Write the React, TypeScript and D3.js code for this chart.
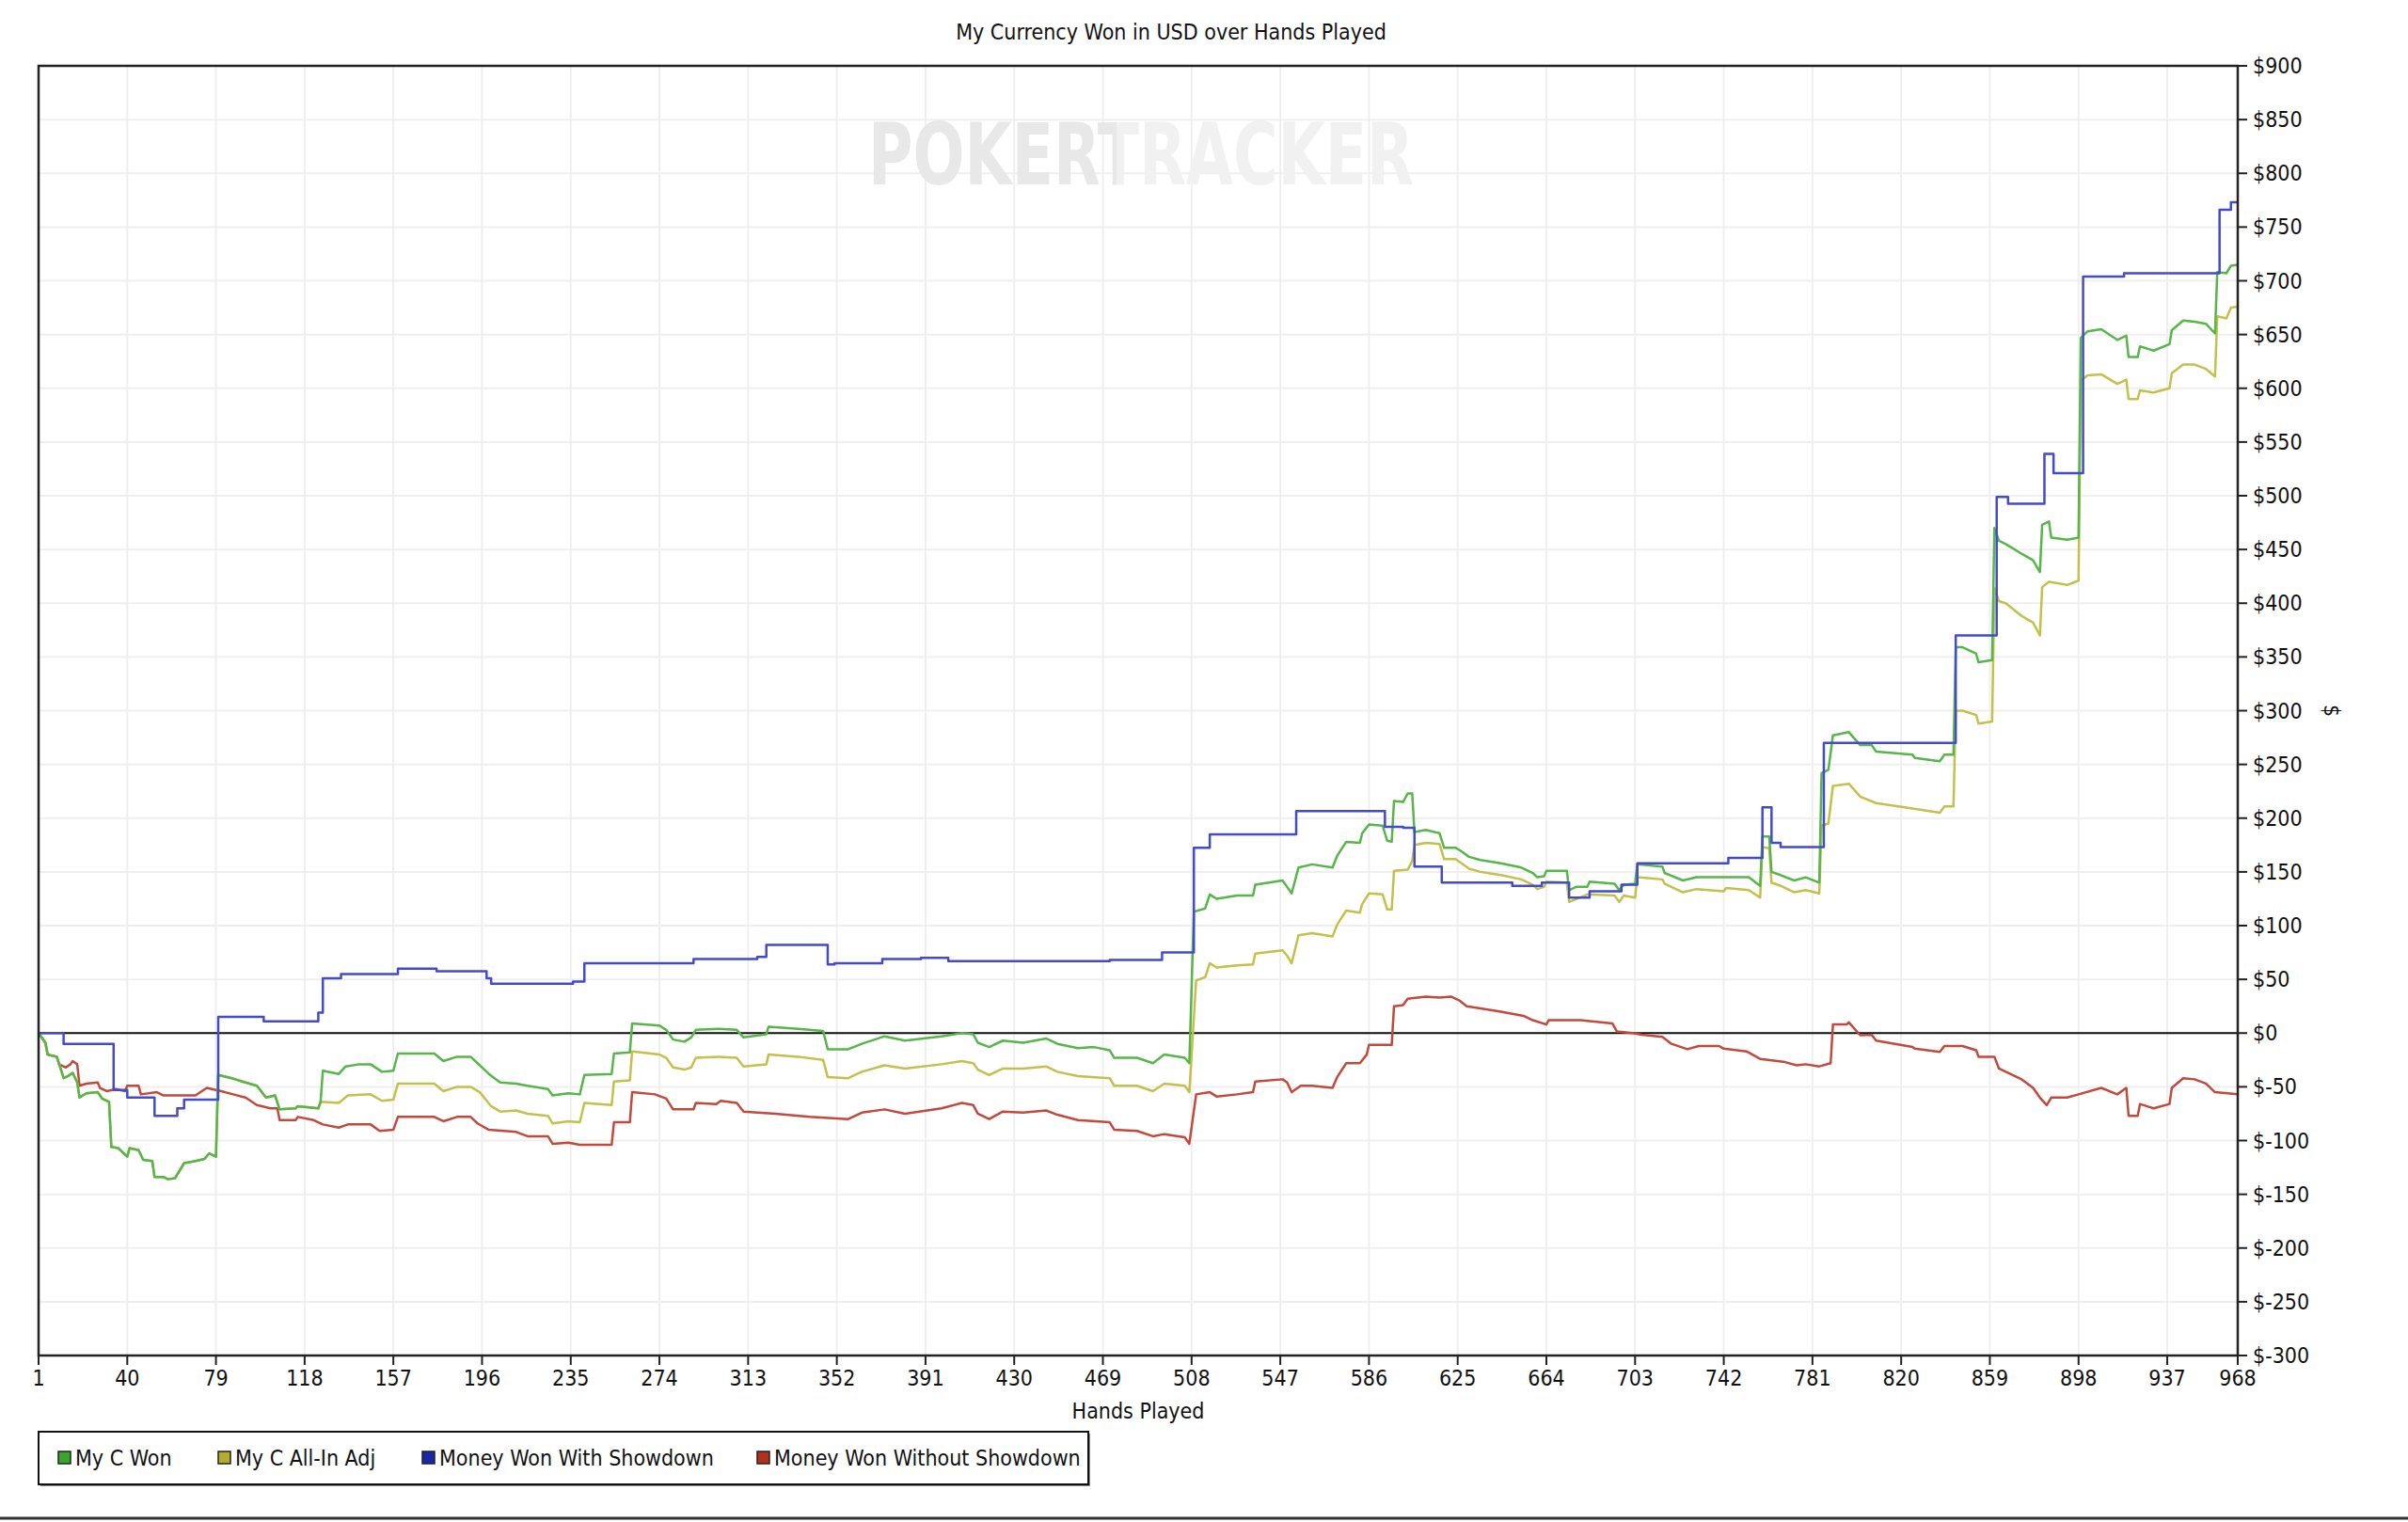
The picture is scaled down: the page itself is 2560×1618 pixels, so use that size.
import React from 'react';
import * as d3 from 'd3';

const WIDTH = 2560;
const HEIGHT = 1618;
const PLOT = { left: 41, right: 2379, top: 70, bottom: 1441 };
const FONT = "'DejaVu Sans Condensed', 'Liberation Sans Narrow', sans-serif";

const handTicks = [1, 40, 79, 118, 157, 196, 235, 274, 313, 352, 391, 430, 469, 508, 547, 586, 625, 664, 703, 742, 781, 820, 859, 898, 937, 968];
const dollarTicks = [-300, -250, -200, -150, -100, -50, 0, 50, 100, 150, 200, 250, 300, 350, 400, 450, 500, 550, 600, 650, 700, 750, 800, 850, 900];

type Pt = [number, number];

// [hand, $]
const myCWon: Pt[] = [
  [1, 0], [4, -9], [5, -20], [9, -22], [11, -35], [12, -42], [14, -40], [16, -37], [18, -46], [19, -60], [22, -56], [27, -55], [29, -61], [32, -64],
  [33, -106], [36, -107], [40, -115], [41, -107], [45, -109], [47, -118], [51, -119], [52, -134], [56, -134], [58, -136], [61, -135], [63, -128],
  [65, -121], [70, -119], [74, -117], [76, -112], [79, -115], [80, -39], [86, -42], [92, -46], [97, -49], [101, -60], [105, -58], [107, -71],
  [114, -70], [115, -68], [124, -70], [125, -64], [126, -35], [133, -38], [136, -31], [142, -29], [147, -29], [152, -36], [157, -35], [159, -19],
  [175, -19], [179, -26], [185, -22], [191, -22], [194, -28], [199, -38], [204, -46], [211, -47], [216, -49], [225, -52], [227, -58], [234, -56],
  [239, -57], [241, -39], [253, -38], [254, -19], [261, -18], [262, 9], [274, 7], [277, 3], [280, -6], [285, -8], [288, -4], [290, 3], [300, 4],
  [308, 3], [311, -4], [321, -1], [322, 6], [335, 4], [346, 2], [348, -15], [357, -15], [363, -10], [373, -3], [382, -7], [398, -3], [407, 0],
  [412, -1], [414, -9], [419, -13], [425, -7], [434, -9], [444, -5], [449, -10], [458, -14], [465, -13], [472, -16], [474, -23], [484, -23],
  [491, -28], [496, -20], [505, -23], [507, -28], [509, 113], [514, 116], [516, 129], [519, 125], [528, 128], [535, 128], [536, 138], [548, 142],
  [550, 136], [552, 130], [555, 154], [561, 157], [570, 154], [572, 165], [576, 178], [582, 177], [583, 186], [586, 194], [592, 193], [594, 179],
  [596, 178], [597, 216], [601, 215], [603, 223], [605, 223], [606, 187], [611, 189], [617, 186], [619, 172.5], [624, 172.5], [626, 170],
  [630, 164], [635, 161], [644, 158], [653, 154], [658, 149], [660, 145], [663, 146], [664, 151], [673, 151], [674, 133], [677, 136], [682, 136],
  [683, 141], [694, 139], [696, 133], [698, 138], [703, 139], [704, 157], [715, 155], [716, 149], [724, 142], [730, 145], [742, 145], [753, 145],
  [758, 137], [759, 183], [762, 183], [763, 150], [767, 147], [773, 142], [778, 145], [784, 140], [785, 242], [788, 245], [790, 277], [797, 280],
  [802, 268], [807, 268], [809, 262], [825, 259], [826, 256], [837, 253], [839, 259], [843, 259], [844, 359], [847, 359], [853, 353], [854, 345],
  [860, 347], [861, 470], [863, 458], [866, 455], [873, 446], [878, 440], [881, 429], [882, 473], [885, 476], [886, 461], [893, 459], [898, 461],
  [899, 647], [902, 653], [908, 655], [915, 645], [919, 649], [920, 629], [924, 629], [925, 639], [931, 635], [938, 641], [939, 654], [944, 663],
  [949, 662], [954, 660], [958, 651], [959, 708], [963, 707], [965, 714], [968, 715],
];

const myCAllInAdj: Pt[] = [
  [1, 0], [4, -9], [5, -20], [9, -22], [11, -35], [12, -42], [14, -40], [16, -37], [18, -46], [19, -60], [22, -56], [27, -55], [29, -61], [32, -64],
  [33, -106], [36, -107], [40, -115], [41, -107], [45, -109], [47, -118], [51, -119], [52, -134], [56, -134], [58, -136], [61, -135], [63, -128],
  [65, -121], [70, -119], [74, -117], [76, -112], [79, -115], [80, -39], [86, -42], [92, -46], [97, -49], [101, -60], [105, -58], [107, -71],
  [114, -70], [115, -68], [124, -70], [125, -64], [133, -65], [137, -58], [147, -57], [152, -63], [157, -62], [159, -47], [175, -47], [179, -54],
  [185, -50], [191, -50], [195, -55], [200, -68], [204, -73], [211, -72], [216, -75], [225, -77], [227, -84], [234, -82], [239, -83], [241, -65],
  [253, -67], [254, -45], [261, -44], [262, -17], [274, -20], [277, -23], [280, -32], [285, -34], [288, -32], [290, -23], [300, -22], [308, -23],
  [311, -31], [321, -29], [322, -20], [335, -22], [346, -25], [348, -41], [357, -42], [363, -36], [373, -30], [382, -33], [398, -29], [407, -26],
  [412, -28], [414, -34], [419, -39], [425, -33], [434, -33], [444, -31], [449, -36], [458, -40], [472, -42], [474, -49], [484, -49], [491, -54],
  [496, -47], [505, -49], [507, -55], [510, 49], [514, 52], [516, 65], [519, 61], [528, 63], [535, 64], [536, 74], [548, 77], [550, 72], [552, 65],
  [555, 91], [561, 93], [570, 90], [572, 101], [576, 114], [582, 112], [583, 120], [586, 130], [592, 129], [594, 115], [596, 115], [597, 151],
  [603, 152], [605, 160], [606, 175], [611, 177], [617, 176], [619, 162], [624, 162], [626, 159], [630, 153], [635, 150], [644, 147], [653, 143],
  [658, 138], [660, 134], [663, 136], [664, 141], [673, 140], [674, 122], [682, 129], [694, 128], [696, 122], [698, 128], [703, 126], [704, 145],
  [715, 143], [716, 139], [724, 131], [730, 134], [742, 132], [743, 135], [753, 133], [758, 126], [759, 173], [762, 172], [763, 140], [767, 137],
  [773, 131], [778, 133], [784, 130], [785, 193], [788, 195], [790, 230], [797, 232], [802, 220], [809, 214], [825, 209], [837, 205], [839, 211],
  [843, 211], [844, 300], [847, 300], [853, 296], [854, 288], [860, 290], [861, 414], [863, 402], [866, 400], [873, 388], [878, 382], [881, 370],
  [882, 415], [885, 420], [893, 417], [898, 421], [899, 607], [902, 612], [908, 613], [915, 604], [919, 608], [920, 590], [924, 590], [925, 598],
  [931, 596], [938, 600], [939, 614], [944, 622], [949, 622], [954, 618], [958, 611], [959, 667], [963, 665], [965, 675], [968, 676],
];

// level starts (drawn as steps)
const wonWithShowdown: Pt[] = [
  [1, 0], [12, -10], [34, -53], [40, -60], [52, -77], [62, -70], [65, -62], [80, 15], [100, 11], [124, 19], [126, 51], [134, 55], [159, 60],
  [176, 57.5], [198, 51], [200, 46], [236, 48], [241, 65], [289, 69], [317, 71], [321, 82], [348, 64], [351, 65], [372, 69], [389, 70], [401, 67],
  [472, 68], [495, 75], [509, 172.5], [516, 185], [554, 206.5], [593, 192], [601, 191], [606, 155], [618, 140], [649, 137], [662, 140], [674, 126],
  [683, 132], [697, 138], [704, 158], [744, 163], [759, 210], [763, 177], [767, 173], [786, 270], [844, 370], [862, 499], [867, 492.5], [883, 539],
  [887, 521], [900, 704], [918, 707], [960, 766], [965, 773], [968, 773],
];

const wonWithoutShowdown: Pt[] = [
  [1, 0], [4, -9], [5, -20], [9, -22], [10, -29], [13, -32], [15, -29], [16, -26], [18, -29], [19, -49], [22, -47], [27, -46], [28, -51], [31, -54],
  [35, -52], [39, -54], [40, -49], [45, -49], [46, -57], [53, -55], [56, -58], [70, -58], [75, -51], [79, -53], [83, -55], [92, -60], [97, -67],
  [103, -70], [106, -70], [107, -81], [114, -81], [115, -78], [122, -81], [126, -85], [133, -88], [137, -85], [147, -85], [151, -91], [157, -90],
  [159, -78], [175, -78], [179, -82], [185, -78], [191, -78], [194, -84], [199, -90], [211, -92], [216, -96], [225, -96], [227, -103], [234, -102],
  [239, -104], [253, -104], [254, -83], [261, -83], [262, -55], [272, -57], [277, -61], [280, -71], [289, -71], [290, -65], [299, -66], [301, -63],
  [308, -65], [311, -73], [325, -75], [340, -78], [357, -80], [363, -74], [373, -71], [382, -75], [398, -70], [407, -65], [412, -67], [414, -75],
  [419, -80], [425, -73], [434, -74], [444, -72], [449, -76], [458, -81], [472, -83], [474, -90], [484, -91], [491, -96], [496, -94], [505, -97],
  [507, -103], [510, -57], [516, -55], [519, -59], [528, -57], [535, -55], [536, -45], [548, -43], [550, -46], [552, -55], [556, -49], [561, -49],
  [570, -51], [572, -41], [576, -28], [582, -28], [585, -20], [586, -11], [596, -11], [597, 25], [601, 26], [603, 32], [611, 34], [617, 33],
  [622, 34], [626, 30], [629, 25], [635, 23], [644, 20], [654, 16], [658, 12], [664, 8], [665, 12], [679, 12], [693, 9], [695, 1.5], [702, 0],
  [706, -1.5], [715, -3.5], [719, -10], [726, -15], [731, -12], [740, -12], [742, -14.5], [752, -17], [758, -24], [769, -27], [774, -30],
  [778, -29], [784, -31], [789, -28], [790, 8], [796, 8], [797, 10], [802, -2], [807, -1.5], [809, -7], [825, -13], [826, -14.5], [837, -17.5],
  [839, -12], [847, -12], [853, -16], [854, -22], [861, -22], [863, -33], [866, -36], [873, -43], [878, -51], [881, -60], [884, -67], [886, -60],
  [893, -60], [898, -57], [908, -51], [915, -57], [919, -51], [920, -77], [924, -77], [925, -66], [931, -70], [938, -66], [939, -51], [944, -42],
  [949, -43], [954, -47], [958, -55], [968, -57],
];

const seriesNames = ['My C Won', 'My C All-In Adj', 'Money Won With Showdown', 'Money Won Without Showdown'];
const lineColors = ['#57b54a', '#c4c04c', '#434bcb', '#c24a3c'];
const swatchColors = ['#3aa52c', '#b3ad2b', '#1a28a8', '#b2301c'];
const legendX = [62, 232, 449, 805];

export default function App() {
  const x = d3.scaleLinear().domain([1, 968]).range([PLOT.left, PLOT.right]);
  const y = d3.scaleLinear().domain([-300, 900]).range([PLOT.bottom, PLOT.top]);

  const stepLine = d3.line<Pt>().x((d) => x(d[0])).y((d) => y(d[1])).curve(d3.curveStepAfter);
  const plainLine = d3.line<Pt>().x((d) => x(d[0])).y((d) => y(d[1]));

  const series = [
    { data: myCWon, line: plainLine },
    { data: myCAllInAdj, line: plainLine },
    { data: wonWithShowdown, line: stepLine },
    { data: wonWithoutShowdown, line: plainLine },
  ];
  const drawOrder = [3, 1, 0, 2];

  const midX = (PLOT.left + PLOT.right) / 2;
  const midY = (PLOT.top + PLOT.bottom) / 2;

  return (
    <svg
      width={WIDTH}
      height={HEIGHT}
      style={{ position: 'absolute', left: 0, top: 0, background: '#fff' }}
      fontFamily={FONT}
    >
      <defs>
        <clipPath id="plot-clip">
          <rect x={PLOT.left} y={PLOT.top} width={PLOT.right - PLOT.left} height={PLOT.bottom - PLOT.top} />
        </clipPath>
        <linearGradient id="mark-fill" x1="0" x2="1" y1="0" y2="0">
          <stop offset="0.455" stopColor="#e8e8e8" />
          <stop offset="0.455" stopColor="#f1f1f1" />
        </linearGradient>
      </defs>
      <rect width={WIDTH} height={HEIGHT} fill="#fff" />

      <text x={1245} y={42} textAnchor="middle" fontSize={23} fill="#111">
        My Currency Won in USD over Hands Played
      </text>

      {/* grid */}
      <g stroke="#efefef" strokeWidth={2}>
        {handTicks.map((t) => (
          <line key={'gx' + t} x1={x(t)} x2={x(t)} y1={PLOT.top} y2={PLOT.bottom} />
        ))}
        {dollarTicks.map((t) => (
          <line key={'gy' + t} x1={PLOT.left} x2={PLOT.right} y1={y(t)} y2={y(t)} />
        ))}
      </g>

      {/* watermark */}
      <text
        x={923}
        y={196}
        fontSize={90}
        fontWeight="bold"
        fontFamily="'DejaVu Sans Condensed', sans-serif"
        textLength={580}
        lengthAdjust="spacingAndGlyphs"
        fill="url(#mark-fill)"
      >
        POKERTRACKER
      </text>

      <line x1={PLOT.left} x2={PLOT.right} y1={y(0)} y2={y(0)} stroke="#111" strokeWidth={2} />

      <g clipPath="url(#plot-clip)" fill="none" strokeWidth={2.5} strokeLinejoin="round">
        {drawOrder.map((i) => (
          <path key={seriesNames[i]} d={series[i].line(series[i].data) || ''} stroke={lineColors[i]} />
        ))}
      </g>

      {/* frame */}
      <rect
        x={PLOT.left}
        y={PLOT.top}
        width={PLOT.right - PLOT.left}
        height={PLOT.bottom - PLOT.top}
        fill="none"
        stroke="#222"
        strokeWidth={2.5}
      />

      {/* x axis */}
      <g fontSize={23} fill="#111" textAnchor="middle">
        {handTicks.map((t) => (
          <g key={'xt' + t}>
            <line x1={x(t)} x2={x(t)} y1={PLOT.bottom} y2={PLOT.bottom + 10} stroke="#222" strokeWidth={2} />
            <text x={x(t)} y={PLOT.bottom + 32}>{t}</text>
          </g>
        ))}
        <text x={midX} y={PLOT.bottom + 67}>Hands Played</text>
      </g>

      {/* y axis (right) */}
      <g fontSize={23} fill="#111">
        {dollarTicks.map((t) => (
          <g key={'yt' + t}>
            <line x1={PLOT.right} x2={PLOT.right + 10} y1={y(t)} y2={y(t)} stroke="#222" strokeWidth={2} />
            <text x={PLOT.right + 16} y={y(t)} dy="0.35em">{'$' + t}</text>
          </g>
        ))}
        <text x={2479} y={midY} textAnchor="middle" dy="0.35em" transform={`rotate(90 2479 ${midY})`}>$</text>
      </g>

      {/* legend */}
      <rect x={43} y={1524} width={1116} height={56} fill="#888" />
      <rect x={41} y={1522} width={1116} height={56} fill="#fff" stroke="#111" strokeWidth={2} />
      <g fontSize={23} fill="#111">
        {seriesNames.map((n, i) => (
          <g key={'lg' + n}>
            <rect x={legendX[i]} y={1543} width={13} height={13} fill={swatchColors[i]} stroke="#222" strokeWidth={1.5} />
            <text x={legendX[i] + 18} y={1550} dy="0.35em">{n}</text>
          </g>
        ))}
      </g>

      <line x1={0} x2={WIDTH} y1={1614} y2={1614} stroke="#333" strokeWidth={3} />
    </svg>
  );
}
